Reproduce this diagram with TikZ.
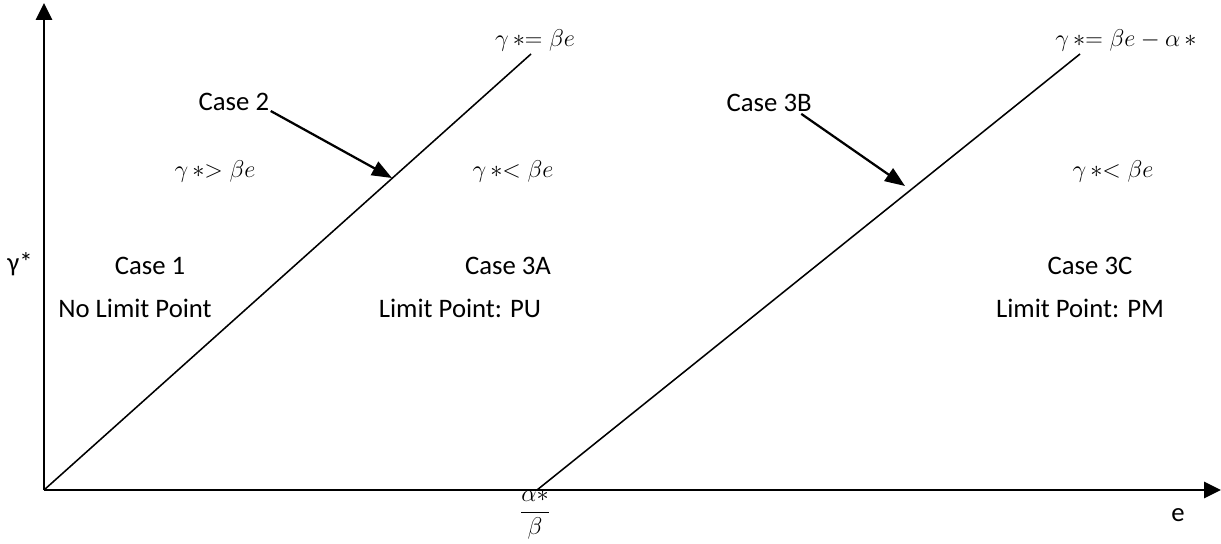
\documentclass[tikz,border=0pt]{standalone}
\usepackage{fontspec}
\setmainfont{Carlito}
\usetikzlibrary{arrows.meta}
\usetikzlibrary{positioning}

\begin{document}
\begin{tikzpicture}[x=0.025cm,y=-0.025cm,
  every node/.style={inner sep=1pt,font=\fontsize{19}{23}\selectfont},
  axis/.style={line width=1.8pt,-{Triangle[length=0.42cm,width=0.4cm]}},
  bound/.style={line width=1.1pt},
  pointer/.style={line width=1.6pt,-{Triangle[length=0.5cm,width=0.38cm]}}]
\useasboundingbox (0,0) rectangle (1221,544);
\coordinate (O) at (44,490);
\coordinate (ytop) at (44,3);
\coordinate (xend) at (1221,490);
\coordinate (A) at (537,490);
\coordinate (top1) at (531,54);
\coordinate (top2) at (1080,54);
\coordinate (hit1) at (392,178);
\coordinate (hit2) at (905,186);
\draw[axis] (O) -- (ytop);
\draw[axis] (O) -- (xend);
\draw[bound] (O) -- (top1);
\draw[bound] (A) -- (top2);
\node[anchor=base] (eq1) at (535,47) {$\gamma\,{*}{=}\;\beta e$};
\node[anchor=base] (eq2) at (1126,47) {$\gamma\,{*}{=}\;\beta e-\alpha\,*$};
\node[anchor=base west] (c2) at (197,111) {Case 2};
\node[anchor=base west] (c3b) at (725,112) {Case 3B};
\node[anchor=base] (gt) at (215,178) {$\gamma\,{*}{>}\;\beta e$};
\node[anchor=base] (lt1) at (513,178) {$\gamma\,{*}{<}\;\beta e$};
\node[anchor=base] (lt2) at (1113,178) {$\gamma\,{*}{<}\;\beta e$};
\node (ylab) at (20,264) {γ*};
\node (c1) at (150,266) {Case 1};
\node (nolp) at (135,308) {No Limit Point};
\node (c3a) at (508,266) {Case 3A};
\node (pu) at (460,308) {Limit Point: PU};
\node (c3c) at (1090,266) {Case 3C};
\node (pm) at (1080,308) {Limit Point: PM};
\node (xlab) at (1178,515) {e};
\node (frac) at (535,515) {$\displaystyle\frac{\alpha*}{\beta}$};
\draw[pointer] (c2.base east) -- (hit1);
\draw[pointer] ([xshift=-0.3cm]c3b.south east) -- (hit2);
\end{tikzpicture}
\end{document}
